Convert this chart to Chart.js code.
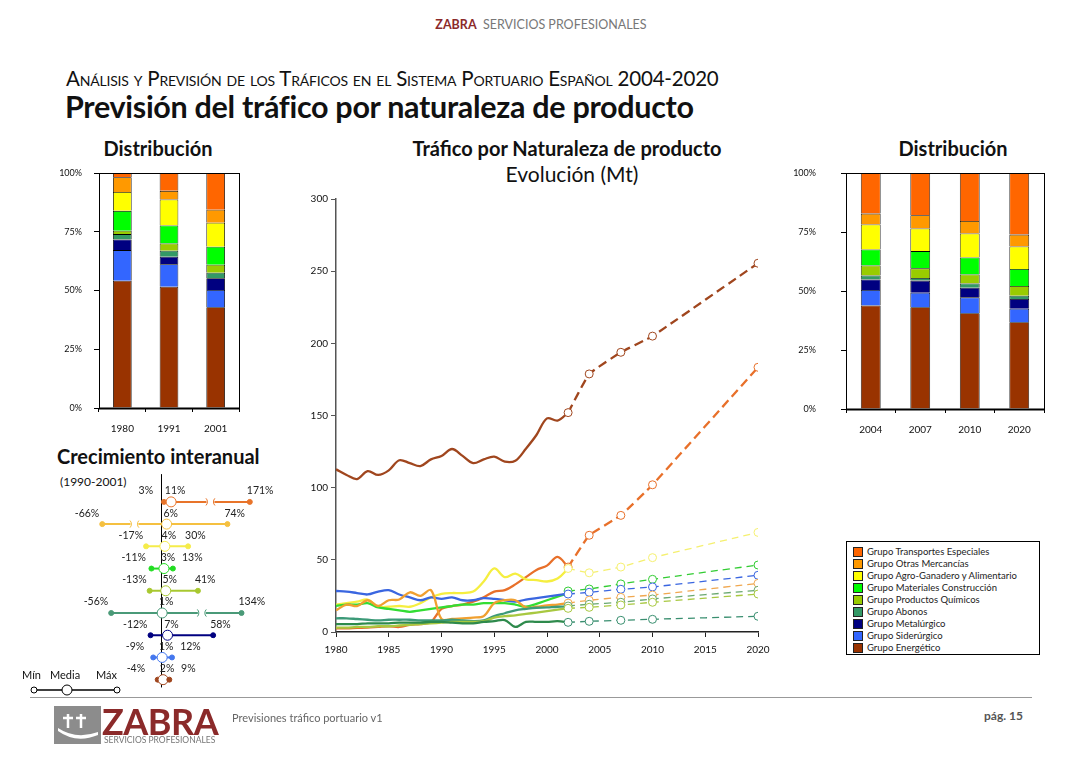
<!DOCTYPE html>
<html lang="es">
<head>
<meta charset="utf-8">
<title>Previsión del tráfico por naturaleza de producto</title>
<script src="https://cdn.jsdelivr.net/npm/chart.js@4.4.0/dist/chart.umd.min.js"></script>
<style>
body{margin:0;background:#fff;font-family:Lato,'Open Sans',sans-serif;color:#111;}
#page{position:relative;width:1086px;height:768px;overflow:hidden;background:#fff;}
.abs{position:absolute;white-space:nowrap;}
.box{position:absolute;}
.center{transform:translateX(-50%);}
#legend{position:absolute;left:846px;top:541px;width:194px;height:114px;border:1px solid #000;padding-top:4px;box-sizing:border-box;}
#legend div{height:12px;line-height:12px;font-size:9.5px;color:#222;padding-left:20px;position:relative;}
#legend span{position:absolute;left:6px;top:1px;width:10px;height:10px;border:1px solid #222;box-sizing:border-box;}
</style>
</head>
<body>
<div id="page">
  <div class="abs center" style="left:541px;top:17px;font-size:12.5px;color:#777;"><b style="color:#8b2a2a;">ZABRA</b>&nbsp; SERVICIOS PROFESIONALES</div>
  <div class="abs" style="left:66px;top:66px;font-size:20.5px;font-variant:small-caps;letter-spacing:-0.2px;">Análisis y Previsión de los Tráficos en el Sistema Portuario Español 2004-2020</div>
  <div class="abs" style="left:65px;top:88px;font-size:30.5px;font-weight:bold;letter-spacing:-0.3px;">Previsión del tráfico por naturaleza de producto</div>

  <div class="abs center" style="left:158px;top:136px;font-size:20px;font-weight:bold;">Distribución</div>
  <div class="abs center" style="left:567px;top:136px;font-size:20px;font-weight:bold;">Tráfico por Naturaleza de producto</div>
  <div class="abs center" style="left:572px;top:161px;font-size:21px;">Evolución (Mt)</div>
  <div class="abs center" style="left:953px;top:136px;font-size:20px;font-weight:bold;">Distribución</div>
  <div class="abs" style="left:57px;top:444px;font-size:20px;font-weight:bold;">Crecimiento interanual</div>
  <div class="abs" style="left:60px;top:474px;font-size:12px;">(1990-2001)</div>

  <div class="box" style="left:40px;top:160px;"><canvas id="barLeft" width="210" height="290"></canvas></div>
  <div class="box" style="left:790px;top:160px;"><canvas id="barRight" width="270" height="290"></canvas></div>
  <div class="box" style="left:290px;top:185px;"><canvas id="lineMain" width="490" height="480"></canvas></div>
  <div class="box" style="left:20px;top:465px;"><canvas id="growth" width="260" height="235"></canvas></div>

  <div id="legend"></div>

  <div class="abs" style="left:22px;top:668px;font-size:11px;">Mín</div>
  <div class="abs" style="left:50px;top:668px;font-size:11px;">Media</div>
  <div class="abs" style="left:96px;top:668px;font-size:11px;">Máx</div>
  <svg class="abs" style="left:26px;top:682px;" width="100" height="16">
    <line x1="8" y1="8" x2="91" y2="8" stroke="#000" stroke-width="1.5"/>
    <circle cx="8" cy="8" r="3" fill="#fff" stroke="#000"/>
    <circle cx="41" cy="8" r="5" fill="#fff" stroke="#000"/>
    <circle cx="91" cy="8" r="3" fill="#fff" stroke="#000"/>
  </svg>

  <div class="abs" style="left:30px;top:697px;width:1002px;height:1px;background:#999;"></div>
  <svg class="abs" style="left:54px;top:706px;" width="47" height="38">
    <rect width="47" height="38" fill="#8c8c8c"/>
    <path d="M4 22 Q22 34 44 26 L44 29 Q22 38 4 25 Z" fill="#fff"/>
    <path d="M14 8 V22 M9 12 H19 M27 8 V22 M22 12 H32" stroke="#fff" stroke-width="2.5"/>
  </svg>
  <div class="abs" style="left:102px;top:699px;font-size:36px;font-weight:bold;color:#8b2a2a;letter-spacing:-0.5px;">ZABRA</div>
  <div class="abs" style="left:104px;top:735px;font-size:8.5px;color:#777;">SERVICIOS PROFESIONALES</div>
  <div class="abs" style="left:232px;top:711px;font-size:11px;color:#666;">Previsiones tráfico portuario v1</div>
  <div class="abs" style="left:984px;top:708px;font-size:12px;font-weight:bold;color:#555;">pág. 15</div>
</div>

<script>
// series, bottom of stack first
const seriesNames = ['Grupo Energético', 'Grupo Siderúrgico', 'Grupo Metalúrgico', 'Grupo Abonos',
  'Grupo Productos Químicos', 'Grupo Materiales Construcción', 'Grupo Agro-Ganadero y Alimentario',
  'Grupo Otras Mercancías', 'Grupo Transportes Especiales'];
const seriesColors = ['#993300', '#3366ff', '#000080', '#339966', '#99cc00', '#00ff00', '#ffff00', '#ff9900', '#ff6600'];

// distribution (%) per year, same order as seriesNames
const histBarYears = ['1980', '1991', '2001'];
const share1980 = [54.2, 13.0, 4.5, 2.3, 1.4, 8.5, 8.0, 6.3, 1.8];
const share1991 = [51.6, 9.6, 3.2, 2.5, 3.1, 7.7, 11.0, 3.7, 7.6];
const share2001 = [42.9, 7.3, 5.0, 2.4, 3.4, 7.6, 10.2, 5.6, 15.6];

const forecastBarYears = ['2004', '2007', '2010', '2020'];
const share2004 = [43.9, 6.5, 4.5, 1.7, 4.2, 6.8, 10.6, 4.6, 17.2];
const share2007 = [43.1, 6.2, 5.1, 1.1, 4.1, 7.3, 9.6, 5.6, 17.9];
const share2010 = [40.6, 6.7, 4.1, 1.8, 3.8, 7.2, 10.2, 5.3, 20.3];
const share2020 = [36.8, 5.7, 4.1, 1.4, 4.1, 7.2, 9.6, 5.0, 26.1];

const pctTicks = [0, 25, 50, 75, 100];

// traffic (Mt), observed 1980-2002
const histYears = [1980, 1981, 1982, 1983, 1984, 1985, 1986, 1987, 1988, 1989, 1990, 1991,
  1992, 1993, 1994, 1995, 1996, 1997, 1998, 1999, 2000, 2001, 2002];
const histEnergetico = [112.7, 108.8, 106, 111.5, 108.8, 112, 119, 117, 115, 119.6, 122, 126.8,
  122, 117, 119.6, 121.5, 118, 118.7, 127, 136.5, 148, 146.5, 152];
const histSiderurgico = [28.4, 28, 27, 26, 28, 29, 26, 24, 22, 24, 23, 24,
  22, 22, 23.5, 23, 22, 21, 22.5, 23.5, 24.5, 25.5, 26.5];
const histMetalurgico = [9.5, 9.5, 9, 8.5, 8, 8.5, 8.5, 8.5, 8, 8, 8, 8.5,
  8, 7.5, 8, 11, 13, 15, 16, 16.8, 17, 17.5, 17.5];
const histAbonos = [5.5, 5.5, 5.5, 6, 6, 6, 6.5, 6.5, 6.5, 7, 7, 6.5,
  6, 6, 7, 7.5, 8.3, 3.5, 7, 7, 7, 7.5, 6.7];
const histQuimicos = [3, 3, 3.5, 3.5, 4, 4, 4.5, 5, 5.5, 6, 6.5, 7,
  7, 7, 7.5, 10, 11, 11.5, 12.5, 13.5, 14.5, 15.5, 16.4];
const histConstruccion = [18, 19, 19, 20, 17, 16, 15, 14, 15, 16, 17, 18,
  19, 19, 20, 20, 20, 19, 17.5, 19.5, 22, 24.5, 26.8];
const histAgro = [19, 20, 21, 22.5, 17.5, 17.5, 18, 17.5, 20, 24, 26.5, 27,
  27, 28, 35, 44, 38, 40.5, 36.5, 36, 35, 37, 44];
const histOtras = [15, 19, 18, 22, 18, 22, 22.5, 27.5, 25, 29, 9, 9,
  9.5, 10, 11, 20, 22, 22, 17, 17.5, 18.5, 19, 20];
const histTransportes = [2.5, 2.5, 2.8, 3, 3.5, 4, 3.5, 5, 5.5, 7, 16, 18,
  19, 21, 24, 28, 29, 33, 38, 43, 46, 52, 45];

// traffic (Mt), forecast
const forecastYears = [2002, 2004, 2007, 2010, 2020];
const fcEnergetico = [152, 178.8, 193.8, 205, 255.5];
const fcSiderurgico = [26.3, 27.5, 29.6, 31.2, 39.3];
const fcMetalurgico = [18, 19.2, 20.6, 22.9, 28.9];
const fcAbonos = [6.7, 7.4, 8.1, 8.8, 10.9];
const fcQuimicos = [16.4, 17.1, 18.7, 20.6, 26.3];
const fcConstruccion = [28.4, 29.8, 33.3, 36.5, 46.4];
const fcAgro = [44, 41, 45, 51.5, 69];
const fcOtras = [20, 22, 24, 25.6, 33.7];
const fcTransportes = [45, 67, 80.8, 102, 183.4];

// interannual growth 1990-2001 (%), top row first
const growthNames = ['Grupo Transportes Especiales', 'Grupo Otras Mercancías', 'Grupo Agro-Ganadero y Alimentario',
  'Grupo Materiales Construcción', 'Grupo Productos Químicos', 'Grupo Abonos', 'Grupo Metalúrgico',
  'Grupo Siderúrgico', 'Grupo Energético'];
const growthMin = [3, -66, -17, -11, -13, -56, -12, -9, -4];
const growthMedia = [11, 6, 4, 3, 5, 1, 7, 1, 2];
const growthMax = [171, 74, 30, 13, 41, 134, 58, 12, 9];
const growthColors = ['#e8742a', '#f5c040', '#f5ec4a', '#22dd22', '#a8c830', '#4a9a78', '#000080', '#4477ee', '#a0461e'];

const FONT = 'Lato, "Open Sans", sans-serif';

// legend box
const legendEl = document.getElementById('legend');
for (let i = seriesNames.length - 1; i >= 0; i--) {
  const d = document.createElement('div');
  d.innerHTML = '<span style="background:' + seriesColors[i] + '"></span>' + seriesNames[i];
  legendEl.appendChild(d);
}

// frame around plot area of the bar charts
const framePlugin = {
  id: 'frame',
  afterDraw(chart) {
    const a = chart.chartArea, ctx = chart.ctx;
    ctx.save();
    ctx.strokeStyle = '#000';
    ctx.lineWidth = 1;
    ctx.strokeRect(a.left + 0.5, a.top + 0.5, a.right - a.left, a.bottom - a.top);
    ctx.lineWidth = 2;
    ctx.beginPath();
    ctx.moveTo(a.left, a.bottom + 0.5);
    ctx.lineTo(a.right, a.bottom + 0.5);
    ctx.stroke();
    ctx.restore();
  }
};

function makeBarChart(id, labels, shares, yAxisW, tickPad, padRight, padBottom) {
  const datasets = seriesNames.map((name, i) => ({
    label: name,
    data: shares.map(s => s[i]),
    backgroundColor: seriesColors[i],
    borderColor: '#000',
    borderWidth: 0.8,
    barPercentage: 0.4,
    categoryPercentage: 1
  }));
  return new Chart(document.getElementById(id), {
    type: 'bar',
    data: { labels: labels, datasets: datasets },
    plugins: [framePlugin],
    options: {
      responsive: false,
      animation: false,
      layout: { padding: { top: 13, right: padRight, bottom: padBottom, left: 0 } },
      plugins: { legend: { display: false }, tooltip: { enabled: false } },
      scales: {
        x: {
          stacked: true,
          grid: { display: true, drawOnChartArea: false, tickLength: 4, color: '#000' },
          border: { color: '#000' },
          ticks: { color: '#111', font: { family: FONT, size: 10 }, padding: 11, maxRotation: 0 },
          afterFit: s => { s.height = 30; s.paddingLeft = 0; s.paddingRight = 0; }
        },
        y: {
          stacked: true,
          min: 0, max: 100,
          afterBuildTicks: s => { s.ticks = pctTicks.map(v => ({ value: v })); },
          grid: { display: true, drawOnChartArea: false, tickLength: 5, color: '#000' },
          border: { color: '#000' },
          ticks: { color: '#111', font: { family: FONT, size: 9 }, padding: tickPad, callback: v => v + '%' },
          afterFit: s => { s.width = yAxisW; s.paddingTop = 0; s.paddingBottom = 0; }
        }
      }
    }
  });
}

makeBarChart('barLeft', histBarYears, [share1980, share1991, share2001], 59, 12, 11, 12);
makeBarChart('barRight', forecastBarYears, [share2004, share2007, share2010, share2020], 56, 25, 16, 11);

// main line chart
const lineSeries = [
  { hist: histAbonos, fc: fcAbonos, color: '#2e8a4c', fcColor: '#3a8f70' },
  { hist: histQuimicos, fc: fcQuimicos, color: '#a8c840', fcColor: '#a8c840' },
  { hist: histMetalurgico, fc: fcMetalurgico, color: '#3c9a78', fcColor: '#6aa870' },
  { hist: histOtras, fc: fcOtras, color: '#f0a030', fcColor: '#f0a850' },
  { hist: histSiderurgico, fc: fcSiderurgico, color: '#3a66e0', fcColor: '#3a66e0' },
  { hist: histConstruccion, fc: fcConstruccion, color: '#33dd33', fcColor: '#33cc33' },
  { hist: histAgro, fc: fcAgro, color: '#f5ee40', fcColor: '#f5f070' },
  { hist: histTransportes, fc: fcTransportes, color: '#e8702a', fcColor: '#e8702a', bold: true },
  { hist: histEnergetico, fc: fcEnergetico, color: '#a0461e', fcColor: '#a0461e', bold: true }
];
const lineDatasets = [];
lineSeries.forEach(s => {
  lineDatasets.push({
    data: s.fc.map((v, i) => ({ x: forecastYears[i], y: v })),
    borderColor: s.fcColor,
    borderWidth: s.bold ? 2.3 : 1.3,
    borderDash: s.bold ? [9, 5] : [7, 5],
    pointRadius: 4,
    pointBorderWidth: 1,
    pointBorderColor: s.fcColor,
    pointBackgroundColor: '#fff',
    tension: 0.1
  });
  lineDatasets.push({
    data: s.hist.map((v, i) => ({ x: histYears[i], y: v })),
    borderColor: s.color,
    borderWidth: 2.3,
    pointRadius: 0,
    tension: 0.35
  });
});

new Chart(document.getElementById('lineMain'), {
  type: 'line',
  data: { datasets: lineDatasets },
  options: {
    responsive: false,
    animation: false,
    layout: { padding: { top: 14, right: 22, bottom: 8, left: 0 } },
    plugins: { legend: { display: false }, tooltip: { enabled: false } },
    scales: {
      x: {
        type: 'linear', min: 1980, max: 2020,
        ticks: { stepSize: 5, color: '#111', font: { family: FONT, size: 10 }, padding: 7, callback: v => String(v) },
        grid: { display: true, drawOnChartArea: false, tickLength: 5, color: '#222' },
        border: { color: '#222', width: 1.5 },
        afterFit: s => { s.height = 25; }
      },
      y: {
        min: 0, max: 300,
        ticks: { stepSize: 50, color: '#111', font: { family: FONT, size: 10 }, padding: 3 },
        grid: { display: true, drawOnChartArea: false, tickLength: 5, color: '#555' },
        border: { color: '#555', width: 1.5 },
        afterFit: s => { s.width = 46; }
      }
    }
  }
});

// growth chart: axis break for large values
const BREAK_POS = 75, BREAK_NEG = -60, BREAK_K = 0.25;
function compress(v) {
  if (v > BREAK_POS) return BREAK_POS + (v - BREAK_POS) * BREAK_K;
  return v;
}
const growthDatasets = growthNames.map((name, i) => ({
  label: name,
  data: [
    { x: compress(growthMin[i]), y: i },
    { x: compress(growthMedia[i]), y: i },
    { x: compress(growthMax[i]), y: i }
  ],
  borderColor: growthColors[i],
  borderWidth: 2,
  pointRadius: [2.5, 5, 2.5],
  pointBorderWidth: 1,
  pointBorderColor: growthColors[i],
  pointBackgroundColor: [growthColors[i], '#fff', growthColors[i]],
  clip: false
}));

const growthPlugin = {
  id: 'growthDecor',
  beforeDatasetsDraw(chart) {
    const { ctx, scales: { x, y } } = chart;
    const x0 = Math.round(x.getPixelForValue(0)) + 0.5;
    ctx.save();
    ctx.strokeStyle = '#000';
    ctx.lineWidth = 1;
    ctx.beginPath();
    ctx.moveTo(x0, y.getPixelForValue(-1.25));
    ctx.lineTo(x0, y.getPixelForValue(8.35));
    ctx.stroke();
    ctx.restore();
  },
  afterDatasetsDraw(chart) {
    const { ctx, scales: { x, y } } = chart;
    ctx.save();
    growthNames.forEach((n, i) => {
      const yy = y.getPixelForValue(i);
      const pMin = x.getPixelForValue(compress(growthMin[i]));
      const pMed = x.getPixelForValue(compress(growthMedia[i]));
      const pMax = x.getPixelForValue(compress(growthMax[i]));
      const breaks = [];
      if (growthMax[i] > BREAK_POS) breaks.push((pMed + pMax) / 2);
      if (growthMin[i] < BREAK_NEG) breaks.push((pMed + pMin) / 2);
      breaks.forEach(bx => {
        ctx.fillStyle = '#fff';
        ctx.fillRect(bx - 4, yy - 4, 8, 8);
        ctx.strokeStyle = growthColors[i];
        ctx.lineWidth = 1;
        ctx.beginPath();
        ctx.arc(bx - 8, yy, 5, -0.8, 0.8);
        ctx.stroke();
        ctx.beginPath();
        ctx.arc(bx + 8, yy, 5, Math.PI - 0.8, Math.PI + 0.8);
        ctx.stroke();
      });
      // keep labels apart when the range is narrow
      ctx.fillStyle = '#222';
      ctx.font = '10.5px ' + FONT;
      ctx.textBaseline = 'middle';
      ctx.textAlign = 'right';
      ctx.fillText(growthMin[i] + '%', Math.min(pMin - 3, pMed - 18), yy - 11);
      ctx.textAlign = 'center';
      ctx.fillText(growthMedia[i] + '%', pMed + 4, yy - 11);
      ctx.textAlign = 'left';
      ctx.fillText(growthMax[i] + '%', Math.max(pMax - 3, pMed + 18), yy - 11);
    });
    ctx.restore();
  }
};

new Chart(document.getElementById('growth'), {
  type: 'line',
  data: { datasets: growthDatasets },
  plugins: [growthPlugin],
  options: {
    responsive: false,
    animation: false,
    layout: { padding: 0 },
    plugins: { legend: { display: false }, tooltip: { enabled: false } },
    scales: {
      x: { type: 'linear', min: -152.4, max: 127.2, display: false },
      y: { type: 'linear', min: -1.435, max: 8.69, reverse: true, display: false }
    }
  }
});
</script>
</body>
</html>
